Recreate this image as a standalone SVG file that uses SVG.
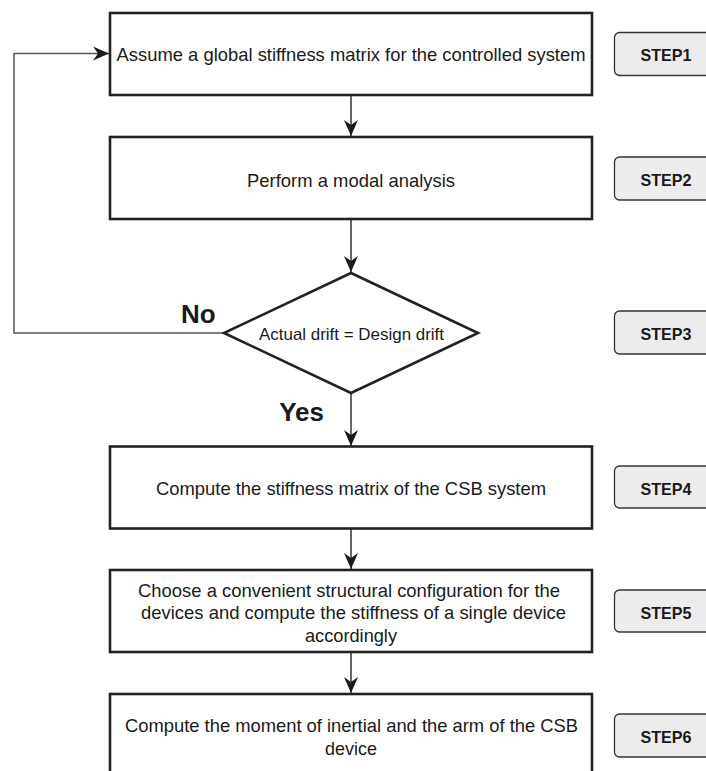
<svg xmlns="http://www.w3.org/2000/svg" width="706" height="771" viewBox="0 0 706 771">
<style>
.box{fill:#ffffff;stroke:#222222;stroke-width:2.6}
.dia{fill:#ffffff;stroke:#222222;stroke-width:2.6}
.step{fill:#ececec;stroke:#333333;stroke-width:1.3}
.t{font-family:"Liberation Sans",Arial,sans-serif;font-size:18.5px;fill:#1a1a1a;text-anchor:middle}
.td{font-family:"Liberation Sans",Arial,sans-serif;font-size:16.5px;fill:#1a1a1a;text-anchor:middle}
.ts{font-family:"Liberation Sans",Arial,sans-serif;font-size:16.5px;font-weight:bold;fill:#1a1a1a;text-anchor:middle}
.tl{font-family:"Liberation Sans",Arial,sans-serif;font-size:26px;font-weight:bold;fill:#1a1a1a}
.c{fill:none;stroke:#333333;stroke-width:1.5}
</style>
<defs>
<marker id="arr" viewBox="0 0 16 14" refX="16" refY="7" markerWidth="16" markerHeight="14" markerUnits="userSpaceOnUse" orient="auto">
<path d="M0,0 L16,7 L0,14 L5,7 Z" fill="#1a1a1a"/>
</marker>
</defs>
<rect width="706" height="771" fill="#ffffff"/>
<g id="connectors">
<line class="c" x1="351" y1="95" x2="351" y2="136" marker-end="url(#arr)"/>
<line class="c" x1="351" y1="219" x2="351" y2="272" marker-end="url(#arr)"/>
<line class="c" x1="351" y1="393" x2="351" y2="446" marker-end="url(#arr)"/>
<line class="c" x1="351" y1="528" x2="351" y2="569" marker-end="url(#arr)"/>
<line class="c" x1="351" y1="652" x2="351" y2="693" marker-end="url(#arr)"/>
<polyline class="c" points="224,333 14,333 14,53.5 109,53.5" style="stroke:#555555" marker-end="url(#arr)"/>
<text class="tl" x="181" y="322.5">No</text>
<text class="tl" x="324" y="421" style="text-anchor:end">Yes</text>
</g>
<g id="step1-node">
<rect class="box" x="110" y="13" width="482" height="82"/>
<text class="t" x="351" y="61" textLength="469" lengthAdjust="spacingAndGlyphs">Assume a global stiffness matrix for the controlled system</text>
</g>
<g id="step2-node">
<rect class="box" x="110" y="137" width="482" height="82"/>
<text class="t" x="351" y="186.5" textLength="208" lengthAdjust="spacingAndGlyphs">Perform a modal analysis</text>
</g>
<g id="step3-node">
<polygon class="dia" points="351,273 478,333 351,393 224,333"/>
<text class="td" x="351.5" y="339.5" textLength="185" lengthAdjust="spacingAndGlyphs">Actual drift = Design drift</text>
</g>
<g id="step4-node">
<rect class="box" x="110" y="446.5" width="482" height="82"/>
<text class="t" x="351" y="494.5" textLength="390" lengthAdjust="spacingAndGlyphs">Compute the stiffness matrix of the CSB system</text>
</g>
<g id="step5-node">
<rect class="box" x="110" y="570" width="482" height="82"/>
<text class="t" x="349" y="596.5" textLength="422" lengthAdjust="spacingAndGlyphs">Choose a convenient structural configuration for the</text>
<text class="t" x="353.5" y="619" textLength="425" lengthAdjust="spacingAndGlyphs">devices and compute the stiffness of a single device</text>
<text class="t" x="351" y="641.5" textLength="92" lengthAdjust="spacingAndGlyphs">accordingly</text>
</g>
<g id="step6-node">
<rect class="box" x="110" y="694" width="482" height="84"/>
<text class="t" x="351.5" y="732" textLength="453" lengthAdjust="spacingAndGlyphs">Compute the moment of inertial and the arm of the CSB</text>
<text class="t" x="351" y="754.5" textLength="52" lengthAdjust="spacingAndGlyphs">device</text>
</g>
<g id="label-step1">
<rect class="step" x="614.5" y="32.5" width="104" height="43" rx="5"/>
<text class="ts" x="666" y="61" textLength="51" lengthAdjust="spacingAndGlyphs">STEP1</text>
</g>
<g id="label-step2">
<rect class="step" x="614.5" y="157" width="104" height="43" rx="5"/>
<text class="ts" x="666" y="185.5" textLength="51" lengthAdjust="spacingAndGlyphs">STEP2</text>
</g>
<g id="label-step3">
<rect class="step" x="614.5" y="311" width="104" height="43" rx="5"/>
<text class="ts" x="666" y="340" textLength="51" lengthAdjust="spacingAndGlyphs">STEP3</text>
</g>
<g id="label-step4">
<rect class="step" x="614.5" y="466" width="104" height="42" rx="5"/>
<text class="ts" x="666" y="494.5" textLength="51" lengthAdjust="spacingAndGlyphs">STEP4</text>
</g>
<g id="label-step5">
<rect class="step" x="614.5" y="590" width="104" height="42" rx="5"/>
<text class="ts" x="666" y="618.5" textLength="51" lengthAdjust="spacingAndGlyphs">STEP5</text>
</g>
<g id="label-step6">
<rect class="step" x="614.5" y="714" width="104" height="43" rx="5"/>
<text class="ts" x="666" y="743" textLength="51" lengthAdjust="spacingAndGlyphs">STEP6</text>
</g>
</svg>
